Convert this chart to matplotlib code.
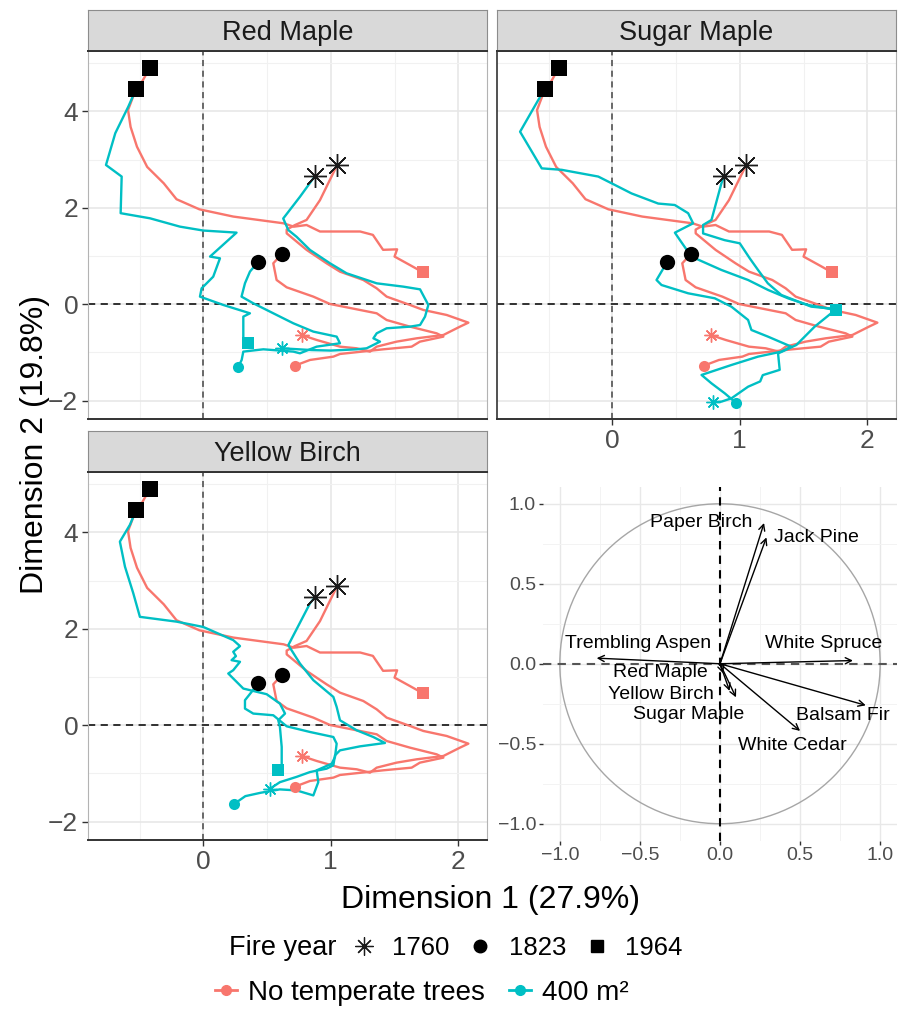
import matplotlib
matplotlib.use("Agg")
import matplotlib.pyplot as plt
from matplotlib.lines import Line2D
from matplotlib.patches import Circle

plt.rcParams["font.family"] = ["Liberation Sans", "DejaVu Sans"]

RED = "#F8766D"
TEAL = "#00BFC4"

# --- trajectories: (Dim1, Dim2) per year of succession ---
# no temperate trees: same baseline in every facet
red_1760 = [(1.05, 2.89), (0.915, 2.16), (0.81, 1.75), (0.72, 1.645), (0.654, 1.55), (0.654, 1.472),
            (0.811, 1.127), (0.967, 0.85), (1.072, 0.677), (1.255, 0.504), (1.36, 0.331), (1.438, 0.159),
            (1.621, -0.014), (1.726, -0.118), (1.909, -0.222), (2.079, -0.381), (2.013, -0.464),
            (1.883, -0.637), (1.673, -0.706), (1.516, -0.775), (1.36, -0.879), (1.307, -0.983),
            (1.203, -0.913), (1.072, -0.879), (0.889, -0.74), (0.771, -0.637)]
red_1823 = [(0.615, 1.04), (0.549, 0.85), (0.575, 0.504), (0.654, 0.352), (0.863, 0.159), (0.994, 0.006),
            (1.36, -0.187), (1.438, -0.326), (1.621, -0.464), (1.83, -0.602), (1.883, -0.671),
            (1.699, -0.775), (1.634, -0.879), (1.412, -0.934), (1.072, -1.031), (1.02, -1.086),
            (0.837, -1.155), (0.719, -1.273)]
red_1964 = [(-0.42, 4.90), (-0.48, 4.62), (-0.55, 4.31), (-0.59, 4.03), (-0.57, 3.68), (-0.52, 3.27),
            (-0.44, 2.85), (-0.31, 2.51), (-0.21, 2.18), (-0.03, 1.97), (0.235, 1.82), (0.63, 1.68),
            (0.71, 1.61), (0.81, 1.645), (0.915, 1.51), (1.23, 1.51), (1.33, 1.44), (1.41, 1.13),
            (1.52, 1.14), (1.50, 0.99), (1.62, 0.815), (1.725, 0.66)]

# 400 m2 of temperate trees, one set per species
rm_teal_1760 = [(0.876, 2.66), (0.758, 2.23), (0.627, 1.78), (0.667, 1.54), (0.732, 1.40), (0.837, 1.127),
                (0.994, 0.85), (1.124, 0.643), (1.36, 0.435), (1.569, 0.366), (1.70, 0.31), (1.765, -0.014),
                (1.739, -0.256), (1.70, -0.43), (1.621, -0.464), (1.438, -0.498), (1.36, -0.602),
                (1.334, -0.706), (1.386, -0.775), (1.281, -0.913), (1.203, -0.934), (1.0, -0.96),
                (0.85, -0.95), (0.615, -0.913)]
rm_teal_1823 = [(0.432, 0.885), (0.366, 0.678), (0.327, 0.436), (0.30, 0.159), (0.392, 0.021),
                (0.575, -0.221), (0.706, -0.394), (0.863, -0.567), (1.046, -0.671), (1.072, -0.809),
                (0.889, -0.879), (0.758, -1.017), (0.706, -0.982), (0.471, -0.934), (0.314, -0.982),
                (0.301, -1.155), (0.275, -1.294)]
rm_teal_1964 = [(-0.528, 4.46), (-0.588, 4.10), (-0.69, 3.55), (-0.763, 2.89), (-0.64, 2.65), (-0.648, 1.89),
                (-0.418, 1.784), (-0.183, 1.611), (0.0, 1.53), (0.261, 1.487), (0.053, 0.99), (0.131, 0.954),
                (0.078, 0.573), (0.0, 0.365), (-0.013, 0.332), (-0.026, 0.159), (0.157, -0.014),
                (0.366, -0.187), (0.314, -0.256), (0.314, -0.74), (0.353, -0.81)]

sm_teal_1760 = [(0.876, 2.66), (0.856, 2.51), (0.778, 1.75), (0.712, 1.645), (0.712, 1.47), (0.882, 1.33),
                (1.0, 1.265), (1.078, 0.954), (1.143, 0.712), (1.22, 0.435), (1.326, 0.193), (1.56, -0.049),
                (1.757, -0.10), (1.587, -0.464), (1.444, -0.844), (1.30, -1.02), (1.313, -1.36),
                (1.18, -1.47), (1.16, -1.6), (1.065, -1.71), (0.935, -1.95), (0.856, -2.02), (0.79, -2.03)]
sm_teal_1823 = [(0.432, 0.885), (0.347, 0.504), (0.386, 0.40), (0.595, 0.228), (0.804, 0.124),
                (0.934, -0.049), (1.065, -0.325), (1.091, -0.533), (1.221, -0.671), (1.404, -0.879),
                (1.326, -0.982), (1.143, -1.086), (0.935, -1.259), (0.70, -1.466), (0.778, -1.64),
                (0.882, -1.847), (0.974, -2.054)]
sm_teal_1964 = [(-0.528, 4.46), (-0.58, 4.24), (-0.723, 3.58), (-0.553, 2.82), (-0.397, 2.79), (-0.11, 2.65),
                (-0.005, 2.51), (0.151, 2.30), (0.36, 2.09), (0.49, 2.06), (0.595, 1.89), (0.634, 1.68),
                (0.491, 1.486), (0.53, 1.334), (0.621, 0.988), (0.856, 0.712), (1.065, 0.504),
                (1.222, 0.297), (1.378, 0.124), (1.535, -0.014), (1.757, -0.118)]

yb_teal_1760 = [(0.876, 2.66), (0.837, 2.53), (0.667, 1.663), (0.758, 1.282), (0.863, 0.936), (1.02, 0.589),
                (1.046, 0.381), (1.072, 0.104), (1.203, -0.104), (1.333, -0.243), (1.425, -0.367),
                (1.229, -0.437), (1.072, -0.52), (1.033, -0.624), (1.02, -0.83), (0.967, -0.90),
                (0.837, -0.97), (0.732, -1.07), (0.601, -1.18), (0.523, -1.317)]
yb_teal_1823 = [(0.432, 0.885), (0.379, 0.693), (0.327, 0.52), (0.327, 0.347), (0.392, 0.243),
                (0.549, 0.208), (0.654, -0.021), (0.837, -0.139), (1.02, -0.243), (1.046, -0.381),
                (1.033, -0.658), (1.007, -0.797), (0.889, -0.935), (0.902, -1.178), (0.863, -1.455),
                (0.732, -1.351), (0.60, -1.33), (0.45, -1.40), (0.33, -1.47), (0.243, -1.63)]
yb_teal_1964 = [(-0.528, 4.46), (-0.575, 4.16), (-0.654, 3.81), (-0.614, 3.29), (-0.549, 2.74),
                (-0.497, 2.25), (-0.209, 2.15), (0.0, 2.04), (0.235, 1.767), (0.288, 1.643), (0.235, 1.525),
                (0.256, 1.435), (0.222, 1.351), (0.288, 1.317), (0.235, 1.143), (0.196, 1.074),
                (0.314, 0.762), (0.497, 0.645), (0.601, 0.45), (0.641, 0.243), (0.588, 0.104),
                (0.601, -0.035), (0.615, -0.45), (0.615, -0.866), (0.588, -0.936)]

# --- correlation circle (species loadings) ---
species = ["Paper Birch", "Jack Pine", "White Spruce", "Trembling Aspen", "Balsam Fir",
           "White Cedar", "Sugar Maple", "Yellow Birch", "Red Maple"]
load_d1 = [0.275, 0.29, 0.83, -0.77, 0.91, 0.50, 0.10, 0.06, 0.02]
load_d2 = [0.88, 0.79, 0.02, 0.035, -0.26, -0.42, -0.21, -0.17, -0.06]
label_xy = [(-0.12, 0.886), (0.60, 0.79), (0.65, 0.126), (-0.51, 0.126), (0.765, -0.325),
            (0.45, -0.51), (-0.196, -0.32), (-0.37, -0.19), (-0.37, -0.054)]

years = [1760, 1823, 1964]
facets = [
    ("Red Maple", [rm_teal_1760, rm_teal_1823, rm_teal_1964]),
    ("Sugar Maple", [sm_teal_1760, sm_teal_1823, sm_teal_1964]),
    ("Yellow Birch", [yb_teal_1760, yb_teal_1823, yb_teal_1964]),
]
red_paths = [red_1760, red_1823, red_1964]

STAR = (8, 2, 0)
shape = {1760: STAR, 1823: "o", 1964: "s"}
start_size = {1760: 16.5, 1823: 11, 1964: 11}
end_size = {1760: 10, 1823: 8, 1964: 8}

W, H = 899, 1019
fig = plt.figure(figsize=(W / 100, H / 100), dpi=100)


def rect(left, top, right, bottom):
    return [left / W, 1 - bottom / H, (right - left) / W, (bottom - top) / H]


def strip(left, top, right, bottom, title):
    sax = fig.add_axes(rect(left, top, right, bottom))
    sax.set_facecolor("#d9d9d9")
    sax.set_xticks([])
    sax.set_yticks([])
    for s in ["top", "left", "right"]:
        sax.spines[s].set_color("#8c8c8c")
        sax.spines[s].set_linewidth(0.8)
    sax.spines["bottom"].set_color("#333333")
    sax.spines["bottom"].set_linewidth(1.4)
    sax.text(0.5, 0.45, title, ha="center", va="center", fontsize=19.5, color="#1a1a1a",
             transform=sax.transAxes)


def draw_facet(ax, teal_paths, show_x, show_y):
    ax.set_xlim(-0.904, 2.225)
    ax.set_ylim(-2.38, 5.255)
    ax.set_xticks([0, 1, 2])
    ax.set_xticks([-0.5, 0.5, 1.5], minor=True)
    ax.set_yticks([-2, 0, 2, 4])
    ax.set_yticks([-1, 1, 3, 5], minor=True)
    ax.grid(True, which="major", color="#e6e6e6", lw=1.1)
    ax.grid(True, which="minor", color="#f1f1f1", lw=0.8)
    ax.set_axisbelow(True)
    ax.axvline(0, color="#444444", lw=1.1, ls=(0, (4, 3)), zorder=1)
    ax.axhline(0, color="#222222", lw=1.3, ls=(0, (4, 3)), zorder=1)

    for paths, col, z in [(red_paths, RED, 2), (teal_paths, TEAL, 3)]:
        for p in paths:
            xs = [pt[0] for pt in p]
            ys = [pt[1] for pt in p]
            ax.plot(xs, ys, color=col, lw=1.7, zorder=z, solid_joinstyle="round")

    for paths, col in [(red_paths, RED), (teal_paths, TEAL)]:
        for yr, p in zip(years, paths):
            ex, ey = p[-1]
            if yr == 1760:
                ax.plot(ex, ey, marker=STAR, ms=end_size[yr], color=col, mec=col, mew=1.0,
                        ls="none", zorder=5)
            else:
                ax.plot(ex, ey, marker=shape[yr], ms=end_size[yr], color=col, mec=col, mew=0,
                        ls="none", zorder=5)
            sx, sy = p[0]
            if yr == 1760:
                ax.plot(sx, sy, marker=STAR, ms=start_size[yr], color="#1a1a1a", mec="#1a1a1a", mew=1.0,
                        ls="none", zorder=6)
            else:
                ax.plot(sx, sy, marker=shape[yr], ms=start_size[yr], color="black", mew=0,
                        ls="none", zorder=6)

    for s in ["top", "bottom"]:
        ax.spines[s].set_color("#333333")
        ax.spines[s].set_linewidth(1.4)
    for s in ["left", "right"]:
        ax.spines[s].set_color("#b3b3b3")
        ax.spines[s].set_linewidth(0.8)

    ax.tick_params(which="major", length=4, width=1, color="#333333", labelsize=19,
                   labelcolor="#4d4d4d", pad=3)
    ax.tick_params(which="minor", length=0)
    if not show_x:
        ax.tick_params(axis="x", which="major", length=0, labelbottom=False)
    if not show_y:
        ax.tick_params(axis="y", which="major", length=0, labelleft=False)
        ax.spines["left"].set_color("#333333")
        ax.spines["left"].set_linewidth(1.2)
    ax.set_yticklabels(["\u22122", "0", "2", "4"])


panel_boxes = {
    "Red Maple": (88, 51, 487, 419),
    "Sugar Maple": (497, 51, 896, 419),
    "Yellow Birch": (88, 472, 487, 840),
}
axis_flags = {"Red Maple": (False, True), "Sugar Maple": (True, False), "Yellow Birch": (True, True)}

for name, teal_paths in facets:
    l, t, r, b = panel_boxes[name]
    ax = fig.add_axes(rect(l, t, r, b))
    draw_facet(ax, teal_paths, *axis_flags[name])
    strip(l, t - 41, r, t, name)

# correlation circle
cax = fig.add_axes(rect(543, 487, 897, 840.5))
cax.set_xlim(-1.105, 1.105)
cax.set_ylim(-1.105, 1.105)
cax.set_xticks([-1.0, -0.5, 0.0, 0.5, 1.0])
cax.set_yticks([-1.0, -0.5, 0.0, 0.5, 1.0])
cax.set_xticks([-0.75, -0.25, 0.25, 0.75], minor=True)
cax.set_yticks([-0.75, -0.25, 0.25, 0.75], minor=True)
cax.set_xticklabels(["\u22121.0", "\u22120.5", "0.0", "0.5", "1.0"])
cax.set_yticklabels(["\u22121.0", "\u22120.5", "0.0", "0.5", "1.0"])
cax.grid(True, which="major", color="#e8e8e8", lw=1.0)
cax.grid(True, which="minor", color="#f3f3f3", lw=0.7)
cax.set_axisbelow(True)
for s in cax.spines.values():
    s.set_visible(False)
cax.tick_params(which="major", length=3, width=1, color="#333333", labelsize=14,
                labelcolor="#4d4d4d", pad=2)
cax.tick_params(which="minor", length=0)
cax.add_patch(Circle((0, 0), 1.0, fill=False, ec="#a6a6a6", lw=1.0, zorder=1))
cax.axvline(0, color="black", lw=1.5, ls=(0, (4, 3)), zorder=1)
cax.axhline(0, color="#555555", lw=1.5, ls=(0, (4, 3)), zorder=1)
for name, dx, dy, (lx, ly) in zip(species, load_d1, load_d2, label_xy):
    cax.annotate("", xy=(dx, dy), xytext=(0, 0),
                 arrowprops=dict(arrowstyle="->", color="black", lw=1.0, mutation_scale=11,
                                 shrinkA=0, shrinkB=0), zorder=3)
    cax.text(lx, ly, name, ha="center", va="center", fontsize=14, color="black", zorder=4)

# shared axis titles
fig.text(490 / W, 1 - 900 / H, "Dimension 1 (27.9%)", ha="center", va="center", fontsize=23,
         color="black")
fig.text(35 / W, 1 - 445 / H, "Dimension 2 (19.8%)", ha="center", va="center", fontsize=23,
         rotation=90, color="black")

# legends
fig.text(229 / W, 1 - 948 / H, "Fire year", ha="left", va="center", fontsize=19.5)
year_handles = [
    Line2D([], [], ls="none", marker=STAR, ms=13, color="#1a1a1a", mec="#1a1a1a", mew=0.9),
    Line2D([], [], ls="none", marker="o", ms=9, color="black"),
    Line2D([], [], ls="none", marker="s", ms=9, color="black"),
]
fig.legend(year_handles, [str(y) for y in years], loc="center left",
           bbox_to_anchor=(351 / W, 1 - 948 / H), ncol=3, frameon=False, fontsize=18.5,
           handlelength=1.0, handletextpad=0.6, columnspacing=0.7, borderpad=0, borderaxespad=0)

trt_handles = [
    Line2D([], [], color=RED, lw=2, marker="o", ms=7),
    Line2D([], [], color=TEAL, lw=2, marker="o", ms=7),
]
fig.legend(trt_handles, ["No temperate trees", "400 m\u00b2"], loc="center left",
           bbox_to_anchor=(215 / W, 1 - 993 / H), ncol=2, frameon=False, fontsize=20,
           handlelength=0.8, handletextpad=0.4, columnspacing=0.85, borderpad=0, borderaxespad=0)

fig.savefig("out.png", dpi=100)
